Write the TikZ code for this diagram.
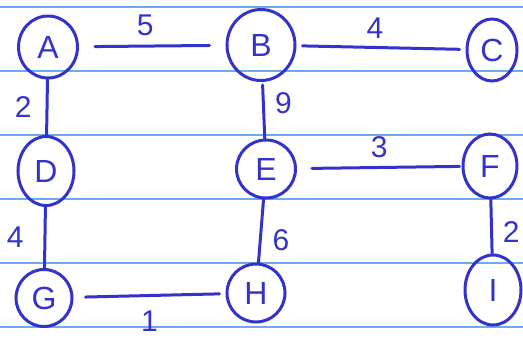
\documentclass[tikz,border=0pt]{standalone}
\usepackage{fontspec}
\setmainfont{Liberation Sans}
\usetikzlibrary{shapes.geometric, positioning}
\definecolor{penblue}{RGB}{51,51,204}
\definecolor{ruleblue}{RGB}{110,170,240}

\begin{document}
\begin{tikzpicture}[x=1pt, y=-1pt,
    vertex/.style={draw=penblue, line width=3pt, ellipse, inner sep=0pt, text=penblue, font=\fontsize{32}{34}\selectfont},
    wedge/.style={draw=penblue, line width=3pt, line cap=round},
    weight/.style={text=penblue, inner sep=0pt, font=\fontsize{30}{32}\selectfont}]
        % Lined paper
        \useasboundingbox (0,0) rectangle (523,341);
        \fill[white] (0,0) rectangle (523,341);
        \foreach \y in {7,71,...,327}
            \draw[ruleblue, line width=1.5pt] (0,\y) -- (523,\y);

        % Top row
        \node[vertex, minimum width=59pt, minimum height=62pt] (A) at (48,47) {A};
        \node[vertex, minimum width=68pt, minimum height=71pt] (B) at (261,45) {B};
        \node[vertex, minimum width=50pt, minimum height=62pt] (C) at (492,50) {C};

        % Middle row
        \node[vertex, minimum width=56pt, minimum height=69pt] (D) at (46,171) {D};
        \node[vertex, minimum width=59pt, minimum height=58pt] (E) at (266,169) {E};
        \node[vertex, minimum width=54pt, minimum height=64pt] (F) at (490,166) {F};

        % Bottom row
        \node[vertex, minimum width=56pt, minimum height=57pt] (G) at (44,298) {G};
        \node[vertex, minimum width=58pt, minimum height=58pt] (H) at (256,293) {H};
        \node[vertex, minimum width=56pt, minimum height=70pt] (I) at (493,290) {I};

        % Weighted edges
        \draw[wedge, shorten <=16pt, shorten >=16pt] (A) -- node[weight, above=9pt, xshift=-7pt] (wAB) {5} (B);
        \draw[wedge, shorten <=6pt, shorten >=6pt] (B) -- node[weight, above=8pt, xshift=-6pt] (wBC) {4} (C);
        \draw[wedge] (A) -- node[weight, left=14pt] (wAD) {2} (D);
        \draw[wedge, shorten <=3pt] (B) -- node[weight, right=10pt, yshift=7pt] (wBE) {9} (E);
        \draw[wedge, shorten <=15pt, shorten >=2pt] (E) -- node[weight, above=8pt] (wEF) {3} (F);
        \draw[wedge] (D) -- node[weight, left=20pt] (wDG) {4} (G);
        \draw[wedge] (E) -- node[weight, right=10pt, yshift=-9pt] (wEH) {6} (H);
        \draw[wedge] (F) -- node[weight, right=10pt, yshift=-6pt] (wFI) {2} (I);
        \draw[wedge, shorten <=12pt, shorten >=6pt] (G) -- node[weight, below=14pt] (wGH) {1} (H);
    \end{tikzpicture}
\end{document}
